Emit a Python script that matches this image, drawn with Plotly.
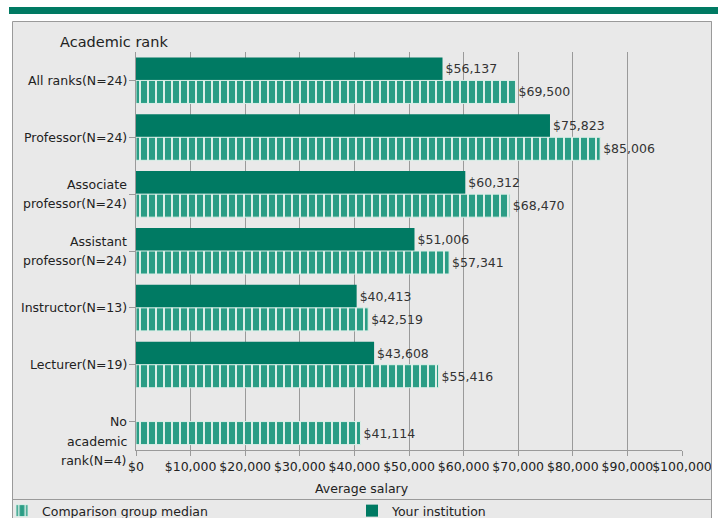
import plotly.graph_objects as go

categories = [
    "All ranks(N=24)",
    "Professor(N=24)",
    "Associate<br>professor(N=24)",
    "Assistant<br>professor(N=24)",
    "Instructor(N=13)",
    "Lecturer(N=19)",
    "No<br>academic<br>rank(N=4)",
]
your_institution = [56137, 75823, 60312, 51006, 40413, 43608, None]
comparison_median = [69500, 85006, 68470, 57341, 42519, 55416, 41114]

DARK = "#007a63"
TEAL = "#2a9d85"
LIGHT = "#dcefe8"
FONT = "DejaVu Sans"
TXT = "#222222"
FS = 12.5

W, H = 718, 518
L, R, T, B = 136, 36, 52, 68
PW, PH = W - L - R, H - T - B


def px_x(px):
    return (px - L) / PW


def px_y(py):
    return (H - B - py) / PH


fig = go.Figure()
fig.add_trace(go.Bar(
    y=categories, x=your_institution, orientation="h",
    name="Your institution", legend="legend2",
    marker=dict(color=DARK, line=dict(width=0)),
    texttemplate="$%{x:,}", textposition="outside",
    textfont=dict(family=FONT, size=FS, color="#333333"),
    cliponaxis=False,
))
fig.add_trace(go.Bar(
    y=categories, x=comparison_median, orientation="h",
    name="Comparison group median", legend="legend",
    marker=dict(color=TEAL, line=dict(width=1, color=LIGHT),
                pattern=dict(shape="|", fillmode="replace", bgcolor=TEAL,
                             fgcolor=LIGHT, size=8, solidity=0.25)),
    texttemplate="$%{x:,}", textposition="outside",
    textfont=dict(family=FONT, size=FS, color="#333333"),
    cliponaxis=False,
))

shapes = [
    # top green strip
    dict(type="rect", xref="paper", yref="paper", x0=px_x(9), x1=px_x(720),
         y0=px_y(14), y1=px_y(7), fillcolor=DARK, line=dict(width=0), layer="below"),
    # grey panel
    dict(type="rect", xref="paper", yref="paper", x0=px_x(12.5), x1=px_x(711.5),
         y0=px_y(540), y1=px_y(21.5), fillcolor="#e9e9e9",
         line=dict(width=1, color="#9a9a9a"), layer="below"),
    # legend separator
    dict(type="line", xref="paper", yref="paper", x0=px_x(12.5), x1=px_x(711.5),
         y0=px_y(499.5), y1=px_y(499.5), line=dict(width=1, color="#9a9a9a"), layer="below"),
    # white cover outside panel on the right
    dict(type="rect", xref="paper", yref="paper", x0=px_x(712), x1=px_x(730),
         y0=px_y(540), y1=px_y(20), fillcolor="white", line=dict(width=0), layer="above"),
    dict(type="line", xref="paper", yref="paper", x0=px_x(711.5), x1=px_x(711.5),
         y0=px_y(540), y1=px_y(21.5), line=dict(width=1, color="#9a9a9a"), layer="above"),
]

annotations = [
    dict(text="Academic rank", xref="paper", yref="paper", x=px_x(58), y=px_y(42),
         xanchor="left", yanchor="middle", showarrow=False,
         font=dict(family=FONT, size=14.5, color=TXT)),
    dict(text="Average salary", xref="paper", yref="paper", x=px_x(362), y=px_y(488),
         xanchor="center", yanchor="middle", showarrow=False,
         font=dict(family=FONT, size=FS, color=TXT)),
]

# category labels: two-line labels centred on the tick, the three-line one
# starts level with its tick and runs downwards
LINE_H = 19.5
for cat in categories:
    lines = cat.split("<br>")
    n = len(lines)
    for i, line in enumerate(lines):
        off = (i - (n - 1) / 2) * LINE_H if n <= 2 else i * LINE_H
        annotations.append(dict(
            text=line, xref="paper", yref="y", x=px_x(129), y=cat,
            xanchor="right", yanchor="middle", yshift=-off,
            showarrow=False, font=dict(family=FONT, size=FS, color=TXT)))

fig.update_layout(
    width=W, height=H,
    margin=dict(l=L, r=R, t=T, b=B, pad=0, autoexpand=False),
    paper_bgcolor="white", plot_bgcolor="rgba(0,0,0,0)",
    barmode="group", bargap=0.19, bargroupgap=0,
    font=dict(family=FONT, size=FS, color=TXT),
    shapes=shapes, annotations=annotations,
    legend=dict(orientation="h", xref="container", yref="container",
                x=2 / W, y=(H - 511) / H, xanchor="left", yanchor="middle",
                bgcolor="rgba(0,0,0,0)", font=dict(family=FONT, size=FS, color=TXT)),
    legend2=dict(orientation="h", xref="container", yref="container",
                 x=352 / W, y=(H - 511) / H, xanchor="left", yanchor="middle",
                 bgcolor="rgba(0,0,0,0)", font=dict(family=FONT, size=FS, color=TXT)),
    xaxis=dict(range=[0, 100000], dtick=10000, tick0=0, tickprefix="$", tickformat=",",
               tickangle=0,
               showgrid=True, gridcolor="#9a9a9a", gridwidth=1,
               showline=True, linecolor="#9a9a9a", linewidth=1,
               ticks="outside", ticklen=5, tickcolor="#9a9a9a",
               zeroline=False, fixedrange=True,
               tickfont=dict(family=FONT, size=FS, color=TXT)),
    yaxis=dict(autorange="reversed", showgrid=False, showticklabels=False,
               showline=True, linecolor="#9a9a9a", linewidth=1,
               ticks="outside", ticklen=6, tickcolor="#9a9a9a", fixedrange=True),
    showlegend=True,
)

fig.write_html("out.html", config={"displayModeBar": False},
               post_script="document.body.style.margin='0';")
